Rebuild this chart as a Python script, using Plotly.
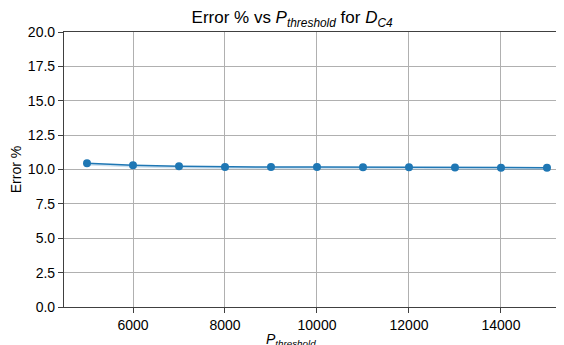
import plotly.graph_objects as go

p_threshold = [5000, 6000, 7000, 8000, 9000, 10000, 11000, 12000, 13000, 14000, 15000]
error_pct = [10.45, 10.31, 10.23, 10.18, 10.18, 10.18, 10.16, 10.16, 10.15, 10.13, 10.13]
error_low = [10.3, 10.15, 10.07, 10.02, 10.02, 10.01, 9.99, 9.99, 9.98, 9.96, 9.96]
y_ticks = [0, 2.5, 5, 7.5, 10, 12.5, 15, 17.5, 20]
x_ticks = [6000, 8000, 10000, 12000, 14000]

BLUE = "#1f77b4"
FONT = "Liberation Sans, Arial, sans-serif"

fig = go.Figure()
fig.add_trace(go.Scatter(x=p_threshold, y=error_low, mode="lines",
                         line=dict(width=0, color="rgba(0,0,0,0)"),
                         showlegend=False, hoverinfo="skip"))
fig.add_trace(go.Scatter(x=p_threshold, y=error_pct, mode="lines",
                         line=dict(width=0, color="rgba(0,0,0,0)"),
                         fill="tonexty", fillcolor="rgba(31,119,180,0.22)",
                         showlegend=False, hoverinfo="skip"))
fig.add_trace(go.Scatter(x=p_threshold, y=error_pct, mode="lines+markers",
                         line=dict(color=BLUE, width=1.5),
                         marker=dict(color=BLUE, size=8),
                         showlegend=False))

fig.update_layout(
    width=556, height=337,
    margin=dict(l=56, r=0, t=24, b=38),
    plot_bgcolor="white", paper_bgcolor="white",
    font=dict(family=FONT, size=14, color="black"),
    title=dict(text="Error % vs <i>P</i><sub><i>threshold</i></sub> for <i>D</i><sub><i>C4</i></sub>",
               xref="container", yref="container", x=0.511, y=0.972,
               xanchor="center", yanchor="middle",
               font=dict(family=FONT, size=17, color="black")),
    xaxis=dict(range=[4500, 15370], tickvals=x_ticks, ticktext=[str(v) for v in x_ticks],
               showgrid=True, gridcolor="#b0b0b0", gridwidth=1,
               showline=True, linecolor="#404040", linewidth=1.2, mirror=True,
               ticks="outside", ticklen=5, tickwidth=1, tickcolor="#404040",
               zeroline=False, tickfont=dict(size=14)),
    yaxis=dict(range=[0, 20], tickvals=y_ticks, ticktext=[f"{v:.1f}" for v in y_ticks],
               showgrid=True, gridcolor="#b0b0b0", gridwidth=1,
               showline=True, linecolor="#404040", linewidth=1.2, mirror=False,
               ticks="outside", ticklen=5, tickwidth=1, tickcolor="#404040",
               zeroline=False, tickfont=dict(size=14),
               title=dict(text="Error %", font=dict(size=14), standoff=8)),
    annotations=[dict(text="<i>P</i><sub><i>threshold</i></sub>", xref="paper", yref="paper",
                      x=0.454, y=-0.12, xanchor="center", yanchor="middle",
                      showarrow=False, font=dict(size=14))],
)

fig.write_html("out.html")
